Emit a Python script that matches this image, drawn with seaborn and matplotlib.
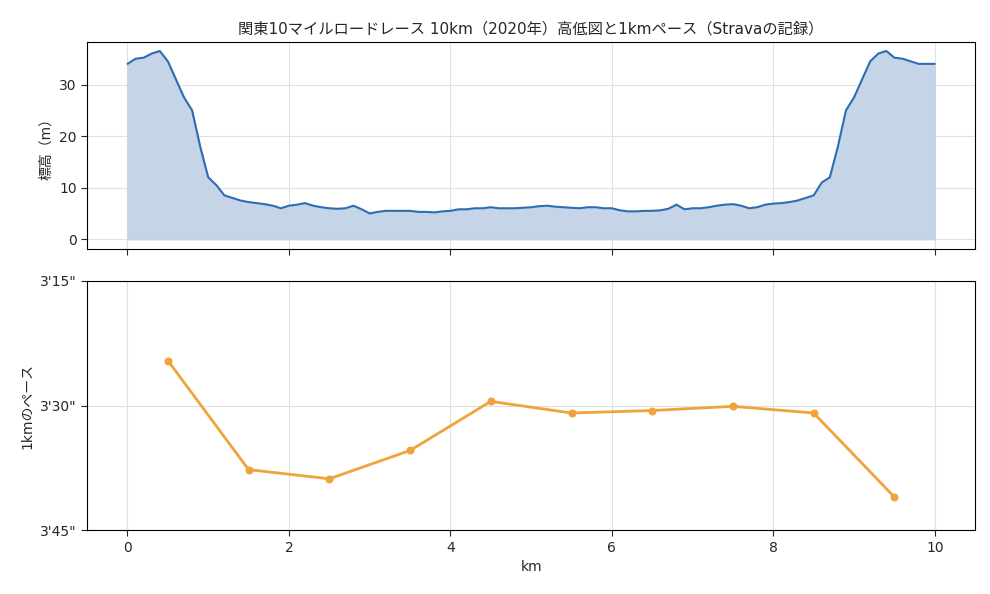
import matplotlib
matplotlib.use("Agg")
import matplotlib.pyplot as plt
import seaborn as sns
import numpy as np
import pandas as pd

sns.set_style("white")
plt.rcParams['font.family'] = ['DejaVu Sans', 'Noto Sans CJK JP']

km = [round(0.1*i, 1) for i in range(101)]
elev = [34, 35, 35.2, 36, 36.5, 34.5, 31, 27.5, 25, 18,
        12, 10.5, 8.5, 8, 7.5, 7.2, 7, 6.8, 6.5, 6,
        6.5, 6.7, 7, 6.5, 6.2, 6, 5.9, 6, 6.5, 5.8,
        5, 5.3, 5.5, 5.5, 5.5, 5.5, 5.3, 5.3, 5.2, 5.4,
        5.5, 5.8, 5.8, 6, 6, 6.2, 6, 6, 6, 6.1,
        6.2, 6.4, 6.5, 6.3, 6.2, 6.1, 6.0, 6.2, 6.2, 6.0,
        6.0, 5.6, 5.4, 5.4, 5.5, 5.5, 5.6, 5.9, 6.7, 5.8,
        6, 6, 6.2, 6.5, 6.7, 6.8, 6.5, 6, 6.2, 6.7,
        6.9, 7.0, 7.2, 7.5, 8, 8.5, 11, 12, 18, 25,
        27.5, 31, 34.5, 36, 36.5, 35.2, 35, 34.5, 34, 34, 34]
pace_km = [0.5, 1.5, 2.5, 3.5, 4.5, 5.5, 6.5, 7.5, 8.5, 9.5]
pace_sec = [204.6, 217.7, 218.8, 215.4, 209.5, 210.9, 210.6, 210.1, 210.9, 221.0]
pace_ticks = [195, 210, 225]
pace_labels = ["3'15\"", "3'30\"", "3'45\""]

df_e = pd.DataFrame({"km": km, "elev": elev})
df_p = pd.DataFrame({"km": pace_km, "pace": pace_sec})

fig, (ax1, ax2) = plt.subplots(2, 1, figsize=(9.9, 5.94), dpi=100, sharex=True,
                               gridspec_kw={"height_ratios": [208, 251], "hspace": 0.14})
fig.subplots_adjust(left=0.088, right=0.985, top=0.93, bottom=0.107)

ax1.fill_between(df_e["km"], df_e["elev"], 0, color="#c5d4e6")
sns.lineplot(data=df_e, x="km", y="elev", ax=ax1, color="#2e6db4", linewidth=1.5)
ax1.set_ylabel("標高（m）")
ax1.set_xlabel("")
ax1.set_title("関東10マイルロードレース 10km（2020年）高低図と1kmペース（Stravaの記録）", fontsize=11)
ax1.set_yticks([0, 10, 20, 30])
ax1.grid(True, color="#e0e0e0", linewidth=0.8)

sns.lineplot(data=df_p, x="km", y="pace", ax=ax2, color="#f0a23b", linewidth=2,
             marker="o", markersize=5, markeredgecolor="#f0a23b")
ax2.set_ylim(225, 195)
ax2.set_yticks(pace_ticks)
ax2.set_yticklabels(pace_labels)
ax2.set_ylabel("1kmのペース")
ax2.set_xlabel("km")
ax2.set_xlim(-0.5, 10.5)
ax2.set_xticks([0, 2, 4, 6, 8, 10])
ax2.grid(True, color="#e0e0e0", linewidth=0.8)
for ax in (ax1, ax2):
    ax.tick_params(axis="both", which="both", length=4, left=True, bottom=True)
    for s in ax.spines.values():
        s.set_color("black")

fig.savefig("out.png")
